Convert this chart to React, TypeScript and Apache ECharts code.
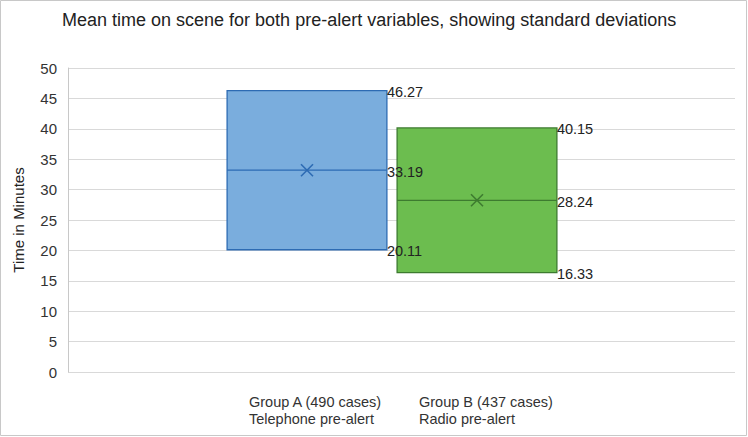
import React, { useEffect, useRef } from "react";
import * as echarts from "echarts";

const titleText = "Mean time on scene for both pre-alert variables, showing standard deviations";
const categories = ["Group A (490 cases)\nTelephone pre-alert", "Group B (437 cases)\nRadio pre-alert"];
const lowValues = [20.11, 16.33];
const meanValues = [33.19, 28.24];
const highValues = [46.27, 40.15];
const fillColors = ["#7aaddd", "#6cbd4f"];
const strokeColors = ["#2d6bb3", "#3d7b2f"];

const FONT = "'Liberation Sans', Arial, Helvetica, sans-serif";

export default function App() {
  const ref = useRef<HTMLDivElement>(null);
  useEffect(() => {
    document.body.style.margin = "0";
    const chart = echarts.init(ref.current!, null, { renderer: "svg" });
    const data = categories.map((c, i) => [i, lowValues[i], meanValues[i], highValues[i]]);
    const renderItem = (params: any, api: any) => {
      const idx = api.value(0);
      const lo = api.value(1);
      const mean = api.value(2);
      const hi = api.value(3);
      const pHi = api.coord([idx, hi]);
      const pLo = api.coord([idx, lo]);
      const pMean = api.coord([idx, mean]);
      const band = api.size([1, 0])[0];
      const w = band * 0.94;
      const x0 = pHi[0] - w / 2;
      const x1 = x0 + w;
      const cx = pHi[0];
      const fill = fillColors[params.dataIndex];
      const stroke = strokeColors[params.dataIndex];
      const s = 6;
      const label = (val: number, y: number) => ({
        type: "text",
        x: x1,
        y: y + 1.5,
        z2: 100,
        style: {
          text: val.toFixed(2),
          fill: "#222",
          fontSize: 14.5,
          fontFamily: FONT,
          align: "left",
          verticalAlign: "middle",
        },
      });
      return {
        type: "group",
        children: [
          {
            type: "rect",
            shape: { x: x0, y: pHi[1], width: w, height: pLo[1] - pHi[1] },
            style: { fill, stroke, lineWidth: 1.3 },
          },
          {
            type: "line",
            shape: { x1: x0, y1: pMean[1], x2: x1, y2: pMean[1] },
            style: { stroke, lineWidth: 1.3 },
          },
          {
            type: "line",
            shape: { x1: cx - s, y1: pMean[1] - s, x2: cx + s, y2: pMean[1] + s },
            style: { stroke, lineWidth: 1.6 },
          },
          {
            type: "line",
            shape: { x1: cx - s, y1: pMean[1] + s, x2: cx + s, y2: pMean[1] - s },
            style: { stroke, lineWidth: 1.6 },
          },
          label(hi, pHi[1]),
          label(mean, pMean[1]),
          label(lo, pLo[1]),
        ],
      };
    };
    chart.setOption({
      animation: false,
      textStyle: { fontFamily: FONT },
      title: {
        text: titleText,
        left: 57,
        top: 6,
        textStyle: { fontSize: 18, fontWeight: "normal", color: "#222", fontFamily: FONT },
      },
      graphic: [
        {
          type: "rect",
          shape: { x: 0.5, y: 0.5, width: 746, height: 435 },
          style: { fill: "none", stroke: "#c8c8c8", lineWidth: 1 },
          silent: true,
        },
      ],
      grid: [
        { left: 68, right: 13, top: 68, bottom: 65 },
        { left: 222, right: 186, top: 68, bottom: 65 },
      ],
      xAxis: [
        { type: "category", gridIndex: 0, data: categories, show: false },
        {
          type: "category",
          gridIndex: 1,
          data: categories,
          axisLine: { show: false },
          axisTick: { show: false },
          splitLine: { show: false },
          axisLabel: {
            margin: 21,
            padding: [0, 0, 0, 18],
            formatter: (v: string) => v.split("\n").map((s) => `{a|${s}}`).join("\n"),
            rich: {
              a: { width: 134, align: "left", fontSize: 14.5, color: "#333", lineHeight: 17, fontFamily: FONT },
            },
          },
        },
      ],
      yAxis: [
        {
          type: "value",
          gridIndex: 0,
          min: 0,
          max: 50,
          interval: 5,
          name: "Time in Minutes",
          nameLocation: "middle",
          nameGap: 42,
          nameTextStyle: { fontSize: 15, color: "#222", fontFamily: FONT },
          axisLine: { show: true, lineStyle: { color: "#c8c8c8" } },
          axisTick: { show: false },
          axisLabel: { margin: 11, fontSize: 15, color: "#333", fontFamily: FONT },
          splitLine: { lineStyle: { color: "#d9d9d9" } },
        },
        { type: "value", gridIndex: 1, min: 0, max: 50, show: false },
      ],
      series: [
        {
          type: "custom",
          xAxisIndex: 1,
          yAxisIndex: 1,
          renderItem,
          data,
          encode: { x: 0, y: [1, 2, 3] },
        },
      ],
    });
    return () => chart.dispose();
  }, []);
  return <div ref={ref} style={{ width: 748, height: 437 }} />;
}
